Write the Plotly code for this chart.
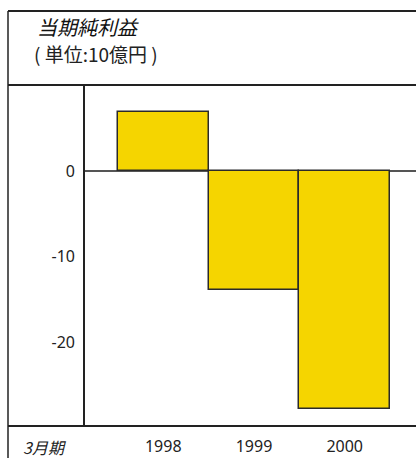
import plotly.graph_objects as go

years = ["1998", "1999", "2000"]
net_income = [6.9, -13.9, -27.8]
y_tick_vals = [0, -10, -20]
title_text = "当期純利益"
unit_text = "( 単位:10億円 )"
period_text = "3月期"

W, H = 416, 458
L, R, T, B = 84, 0, 85, 32
pw = W - L - R
ph = H - T - B


def px(x):
    return (x - L) / pw


def py(y):
    return (H - B - y) / ph


FONT = "Noto Sans CJK JP, Noto Sans, sans-serif"
NUMFONT = "Noto Sans, Noto Sans CJK JP, sans-serif"
LINE = "#222222"

fig = go.Figure(
    go.Bar(
        x=list(range(len(years))),
        y=net_income,
        width=1,
        marker=dict(color="#F5D500", line=dict(color="#2a2a2a", width=1.5)),
        hoverinfo="skip",
    )
)

shapes = []
def hline(y, x0=8, x1=416, w=2):
    shapes.append(dict(type="line", xref="paper", yref="paper",
                       x0=px(x0), x1=px(x1), y0=py(y), y1=py(y),
                       line=dict(color=LINE, width=w)))
def vline(x, y0, y1, w=1.5):
    shapes.append(dict(type="line", xref="paper", yref="paper",
                       x0=px(x), x1=px(x), y0=py(y0), y1=py(y1),
                       line=dict(color=LINE, width=w)))

hline(11)
hline(85)
hline(426)
vline(8, 11, 458)
vline(84, 85, 426, w=2)

annotations = [
    dict(text=title_text, x=px(35), y=py(27), xref="paper", yref="paper",
         xanchor="left", yanchor="middle", showarrow=False,
         font=dict(family=FONT, size=20, color="#111", style="italic")),
    dict(text=unit_text, x=px(32), y=py(53), xref="paper", yref="paper",
         xanchor="left", yanchor="middle", showarrow=False,
         font=dict(family=FONT, size=19, color="#222")),
    dict(text=period_text, x=px(21), y=py(447), xref="paper", yref="paper",
         xanchor="left", yanchor="middle", showarrow=False,
         font=dict(family=FONT, size=16, color="#222", style="italic")),
]

fig.update_layout(
    width=W, height=H,
    margin=dict(l=L, r=R, t=T, b=B, pad=0),
    paper_bgcolor="white", plot_bgcolor="white",
    showlegend=False,
    bargap=0,
    shapes=shapes,
    annotations=annotations,
    font=dict(family=FONT, size=15, color="#222"),
    xaxis=dict(
        range=[-0.5 - 34 / 91, 2.5 + 26 / 91],
        tickmode="array", tickvals=list(range(len(years))), ticktext=years,
        showgrid=False, zeroline=False, showline=False, ticks="",
        ticklabelstandoff=9,
        tickfont=dict(family=NUMFONT, size=16, color="#222"),
        fixedrange=True,
    ),
    yaxis=dict(
        range=[-(426 - 171) / 8.55, (171 - 85) / 8.55],
        tickmode="array", tickvals=y_tick_vals,
        ticktext=[str(v) for v in y_tick_vals],
        showgrid=False, zeroline=True, zerolinecolor="#555555", zerolinewidth=2,
        showline=False, ticks="", ticklabelstandoff=8,
        tickfont=dict(family=NUMFONT, size=16, color="#222"),
        fixedrange=True,
    ),
)

fig.write_html("out.html", config=dict(displayModeBar=False))
